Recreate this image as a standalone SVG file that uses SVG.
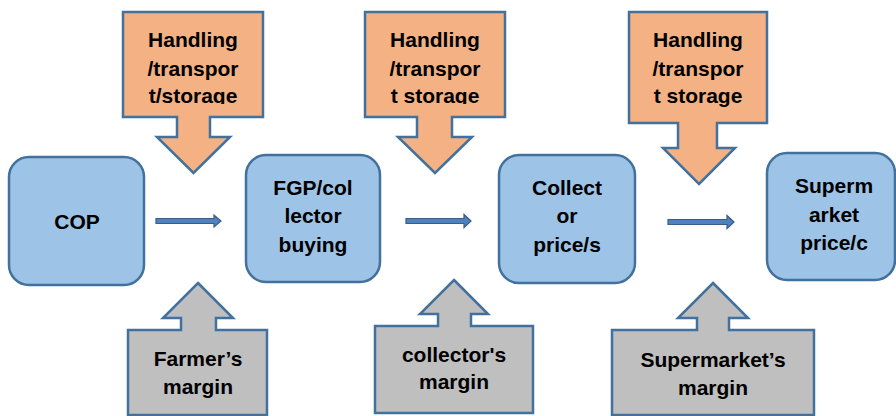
<svg xmlns="http://www.w3.org/2000/svg" width="896" height="416" viewBox="0 0 896 416">
  <defs>
    <style>
      text { font-family: "Liberation Sans", Arial, sans-serif; font-weight: bold; font-size: 21px; fill: #000; text-anchor: middle; }
      .box { fill: #9DC3E6; stroke: #41719C; stroke-width: 2.5; }
      .cost { fill: #F4B183; stroke: #41719C; stroke-width: 2.5; stroke-linejoin: miter; }
      .margin { fill: #BFBFBF; stroke: #41719C; stroke-width: 2.5; stroke-linejoin: miter; }
      .flow { fill: #4F81BD; stroke: #385D8A; stroke-width: 1.2; }
    </style>
    <clipPath id="clipCost1"><rect x="123" y="12" width="140" height="92"/></clipPath>
    <clipPath id="clipCost2"><rect x="365" y="12" width="140" height="92"/></clipPath>
    <clipPath id="clipCost3"><rect x="629" y="12" width="138" height="95"/></clipPath>
  </defs>
  <rect width="896" height="416" fill="#FFFFFF"/>

  <!-- price stages -->
  <g id="cop">
    <rect class="box" x="9" y="157" width="135" height="128" rx="20"/>
    <text x="77" y="229">COP</text>
  </g>
  <g id="fgp">
    <rect class="box" x="246" y="155" width="134" height="127" rx="20"/>
    <text x="313" y="195">FGP/col</text>
    <text x="313" y="223">lector</text>
    <text x="313" y="252">buying</text>
  </g>
  <g id="collector">
    <rect class="box" x="499" y="155" width="136" height="128" rx="20"/>
    <text x="567" y="195">Collect</text>
    <text x="567" y="223">or</text>
    <text x="567" y="252">price/s</text>
  </g>
  <g id="supermarket">
    <rect class="box" x="767" y="153" width="128" height="127" rx="20"/>
    <text x="834" y="193">Superm</text>
    <text x="834" y="222">arket</text>
    <text x="834" y="250">price/c</text>
  </g>

  <!-- handling / transport / storage costs -->
  <g id="cost1">
    <polygon class="cost" points="123,12 263,12 263,117 210,117 210,137 230,137 193.5,173 157,137 177,137 177,117 123,117"/>
    <g clip-path="url(#clipCost1)">
      <text x="193" y="47">Handling</text>
      <text x="193" y="76">/transpor</text>
      <text x="193" y="103">t/storage</text>
    </g>
  </g>
  <g id="cost2">
    <polygon class="cost" points="365,12 505,12 505,117 452,117 452,137 472,137 435,173 398,137 417,137 417,117 365,117"/>
    <g clip-path="url(#clipCost2)">
      <text x="435" y="47">Handling</text>
      <text x="435" y="76">/transpor</text>
      <text x="435" y="103">t storage</text>
    </g>
  </g>
  <g id="cost3">
    <polygon class="cost" points="629,12 767,12 767,123 717,123 717,148 735,148 699,184 663,148 678,148 678,123 629,123"/>
    <g clip-path="url(#clipCost3)">
      <text x="698" y="47">Handling</text>
      <text x="698" y="76">/transpor</text>
      <text x="698" y="103">t storage</text>
    </g>
  </g>

  <!-- margins -->
  <g id="margin1">
    <polygon class="margin" points="198,283 233,318 216,318 216,330 267,330 267,415 128,415 128,330 181,330 181,318 163,318"/>
    <text x="198" y="366">Farmer’s</text>
    <text x="198" y="394">margin</text>
  </g>
  <g id="margin2">
    <polygon class="margin" points="454,280 488,314 471,314 471,326 533,326 533,413 375,413 375,326 438,326 438,314 420,314"/>
    <text x="454" y="362">collector's</text>
    <text x="454" y="389">margin</text>
  </g>
  <g id="margin3">
    <polygon class="margin" points="713,283 748,318 729,318 729,330 814,330 814,415 612,415 612,330 697,330 697,318 678,318"/>
    <text x="713" y="367">Supermarket’s</text>
    <text x="713" y="395">margin</text>
  </g>

  <!-- flow arrows between stages -->
  <g id="connectors">
    <polygon class="flow" points="156,218.5 214,218.5 214,215 221,221 214,227 214,223.5 156,223.5"/>
    <polygon class="flow" points="406,218.5 464,218.5 464,214.5 471,221 464,227.5 464,223.5 406,223.5"/>
    <polygon class="flow" points="668,219.5 727,219.5 727,215.5 734,222 727,228.5 727,224.5 668,224.5"/>
  </g>
</svg>
